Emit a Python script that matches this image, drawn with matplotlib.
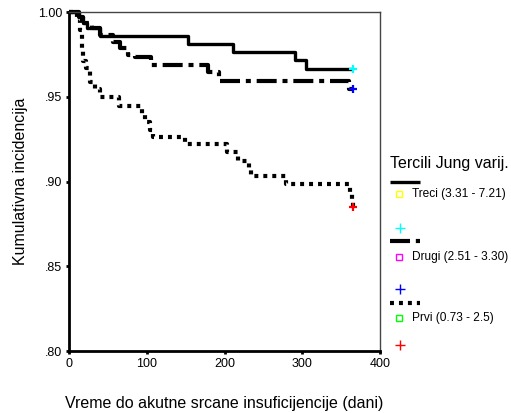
import matplotlib
matplotlib.use("Agg")
import matplotlib.pyplot as plt
from matplotlib.ticker import FuncFormatter

plt.rcParams['font.family'] = ['Liberation Sans', 'DejaVu Sans']

# Kaplan-Meier style step data (days, cumulative value)
treci_t = [0, 12, 18, 23, 39, 153, 211, 290, 305, 365]
treci_v = [1.0, 0.9975, 0.9935, 0.991, 0.9862, 0.9813, 0.9765, 0.9718, 0.9665, 0.9665]

drugi_t = [0, 12, 18, 29, 39, 56, 65, 75, 84, 105, 179, 193, 360, 365]
drugi_v = [1.0, 0.9975, 0.9935, 0.991, 0.9866, 0.9826, 0.979, 0.9748, 0.9735,
           0.969, 0.965, 0.9597, 0.955, 0.955]

prvi_t = [0, 10, 14, 16, 18, 22, 27, 33, 39, 64, 93, 97, 104, 108, 149, 203,
          217, 231, 234, 279, 362, 364, 365]
prvi_v = [1.0, 0.996, 0.9895, 0.978, 0.971, 0.967, 0.959, 0.955, 0.950, 0.9447,
          0.940, 0.9354, 0.9305, 0.9266, 0.922, 0.9174, 0.9124, 0.908, 0.9034,
          0.8986, 0.894, 0.888, 0.885]

groups = ["Treci (3.31 - 7.21)", "Drugi (2.51 - 3.30)", "Prvi (0.73 - 2.5)"]
square_colors = ["#ffff00", "#ff00ff", "#00ff00"]
censor_colors = ["#00ffff", "#0000ff", "#ff0000"]
x_ticks = [0, 100, 200, 300, 400]
y_ticks = [0.80, 0.85, 0.90, 0.95, 1.00]

styles = [
    dict(linestyle='-', lw=2.4),
    dict(linestyle=(0, (4.8, 1.4, 1.2, 1.4)), lw=3.0),
    dict(linestyle=(0, (0.95, 1.2)), lw=3.0),
]

W, H = 511, 413
fig = plt.figure(figsize=(W / 100, H / 100), dpi=100)
ax = fig.add_axes([69.3 / W, 1 - 351 / H, (380 - 69.3) / W, (351 - 12.3) / H])

series = [(treci_t, treci_v), (drugi_t, drugi_v), (prvi_t, prvi_v)]
for (t, v), st, cc in zip(series, styles, censor_colors):
    ax.step(t, v, where='post', color='black', clip_on=False,
            solid_capstyle='butt', dash_capstyle='butt', **st)
    ax.plot([t[-1]], [v[-1]], marker='+', ms=6, mew=1.6, color=cc,
            linestyle='none', clip_on=False, zorder=5)

ax.set_xlim(0, 400)
ax.set_ylim(0.80, 1.00)
ax.set_xticks(x_ticks)
ax.set_yticks(y_ticks)
ax.yaxis.set_major_formatter(FuncFormatter(
    lambda y, _: "1.00" if y >= 0.999 else ("%.2f" % y)[1:]))
ax.tick_params(direction='out', length=2, width=2, labelsize=9, pad=3,
               colors='black')
for side in ['left', 'bottom']:
    ax.spines[side].set_linewidth(2)
    ax.spines[side].set_color('black')
for side in ['top', 'right']:
    ax.spines[side].set_linewidth(1)
    ax.spines[side].set_color('#444444')

ax.set_xlabel("Vreme do akutne srcane insuficijencije (dani)", fontsize=11.5,
              labelpad=19)
ax.set_ylabel("Kumulativna incidencija", fontsize=11.5, labelpad=7)

# manual SPSS-like legend, drawn in pixel coordinates of an overlay axes
lg = fig.add_axes([0, 0, 1, 1])
lg.set_xlim(0, W)
lg.set_ylim(H, 0)
lg.axis('off')
lg.text(390, 163.5, "Tercili Jung varij.", fontsize=11.5, va='center', ha='left')
line_y = [182.3, 241.0, 303.3]
square_y = [194.3, 256.7, 318.3]
plus_y = [228.3, 289.3, 345.0]
for i in range(3):
    lg.plot([390, 419.5], [line_y[i], line_y[i]], color='black',
            solid_capstyle='butt', dash_capstyle='butt', **styles[i])
    lg.plot([399], [square_y[i]], marker='s', ms=5, mfc='none', mew=1,
            color=square_colors[i], linestyle='none')
    lg.text(411.5, square_y[i], groups[i], fontsize=8.6, va='center', ha='left')
    lg.plot([400], [plus_y[i]], marker='+', ms=7, mew=1,
            color=censor_colors[i], linestyle='none')

fig.savefig("out.png", dpi=100)
